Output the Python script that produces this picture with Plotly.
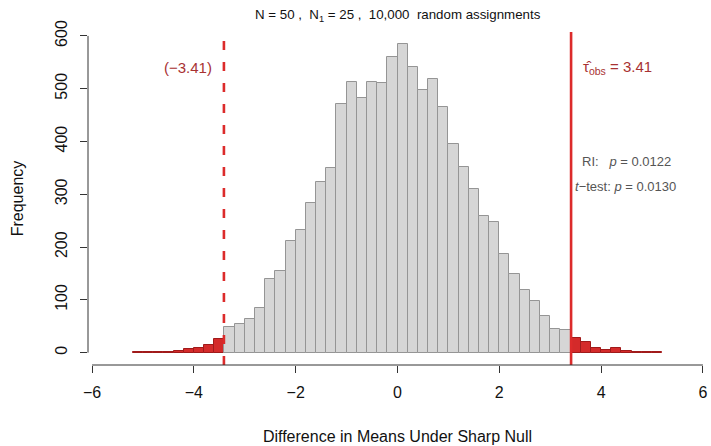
import plotly.graph_objects as go

# ---- data ----
bin_width = 0.2
bin_left_start = -5.2
counts = [2, 1, 1, 2, 3, 6, 8, 14, 25,            # -5.2 .. -3.4
          49, 55, 64, 84, 139, 155, 212, 233, 284, 324, 349,
          471, 512, 483, 513, 510, 560, 584, 541, 497, 519, 466,
          396, 351, 310, 258, 248, 186, 149, 118, 97, 69, 44, 43,  # .. 3.4
          27, 20, 8, 5, 8, 3, 1, 1, 2]            # 3.4 .. 5.2
tau_obs = 3.41
x_ticks = [-6, -4, -2, 0, 2, 4, 6]
y_ticks = [0, 100, 200, 300, 400, 500, 600]
title_text = "N = 50 ,  N<sub>1</sub> = 25 ,  10,000  random assignments"
x_title = "Difference in Means Under Sharp Null"
y_title = "Frequency"
p_ri = "0.0122"
p_t = "0.0130"

lefts = [round(bin_left_start + bin_width * i, 2) for i in range(len(counts))]
centers = [l + bin_width / 2 for l in lefts]
extreme = [(l + bin_width <= -3.4 + 1e-9) or (l >= 3.4 - 1e-9) for l in lefts]
fill = ["#D42A2A" if e else "#D6D6D6" for e in extreme]
edge = ["#A01A1A" if e else "#959595" for e in extreme]

FONT = "Liberation Sans, Arial, Helvetica, sans-serif"
RED = "#DC2B2B"
DARKRED = "#A83232"

fig = go.Figure()
fig.add_trace(go.Bar(x=centers, y=counts, width=bin_width,
                     marker=dict(color=fill, line=dict(color=edge, width=1)),
                     hoverinfo="x+y"))

# reference lines
fig.add_shape(type="line", x0=tau_obs, x1=tau_obs, y0=0, y1=1, xref="x", yref="paper",
              line=dict(color=RED, width=2.6))
fig.add_shape(type="line", x0=-tau_obs, x1=-tau_obs, y0=0, y1=1, xref="x", yref="paper",
              line=dict(color=RED, width=2.6, dash="9px,12px"))

# R-style axis lines
fig.add_shape(type="line", x0=x_ticks[0], x1=x_ticks[-1], y0=0, y1=0, xref="x", yref="paper",
              line=dict(color="#333333", width=1))
fig.add_shape(type="line", x0=0, x1=0, y0=y_ticks[0], y1=y_ticks[-1], xref="paper", yref="y",
              line=dict(color="#333333", width=1))

fig.add_annotation(x=-tau_obs - 0.2, y=540, xref="x", yref="y", xanchor="right",
                   text="(−%.2f)" % tau_obs, showarrow=False,
                   font=dict(family=FONT, size=15, color=DARKRED))
fig.add_annotation(x=tau_obs + 0.2, y=540, xref="x", yref="y", xanchor="left",
                   text="τ\u0302<sub>obs</sub> = %.2f" % tau_obs, showarrow=False,
                   font=dict(family=FONT, size=15, color=DARKRED))
fig.add_annotation(x=tau_obs + 0.17, y=362, xref="x", yref="y", xanchor="left",
                   text="RI:   <i>p</i> = " + p_ri, showarrow=False,
                   font=dict(family=FONT, size=13, color="#555555"))
fig.add_annotation(x=tau_obs + 0.03, y=315, xref="x", yref="y", xanchor="left",
                   text="<i>t</i>−test: <i>p</i> = " + p_t, showarrow=False,
                   font=dict(family=FONT, size=13, color="#555555"))

fig.add_annotation(x=0.5, y=1, xref="paper", yref="paper", yanchor="bottom", yshift=6,
                   text=title_text, showarrow=False,
                   font=dict(family=FONT, size=13.3, color="#111111"))

fig.update_layout(
    width=711, height=446,
    margin=dict(l=88, r=4, t=32, b=81),
    paper_bgcolor="white", plot_bgcolor="white",
    showlegend=False, bargap=0,
    font=dict(family=FONT, size=16, color="#111111"),
    xaxis=dict(range=[-6.08, 6.08], tickvals=x_ticks, automargin=False,
               ticktext=[("−%d" % -t) if t < 0 else str(t) for t in x_ticks],
               ticks="outside", ticklen=7, tickcolor="#333333", showgrid=False,
               zeroline=False, showline=False, ticklabelstandoff=6,
               title=dict(text=x_title, standoff=30, font=dict(size=16))),
    yaxis=dict(range=[-23.4, 607.4], tickvals=y_ticks, tickangle=-90, automargin=False,
               ticks="outside", ticklen=7, tickcolor="#333333", showgrid=False,
               zeroline=False, showline=False, ticklabelstandoff=7,
               title=dict(text=y_title, standoff=24, font=dict(size=16))),
)

fig.write_html("out.html", config={"displayModeBar": False},
               post_script="document.body.style.margin='0';document.body.style.overflow='hidden';")
